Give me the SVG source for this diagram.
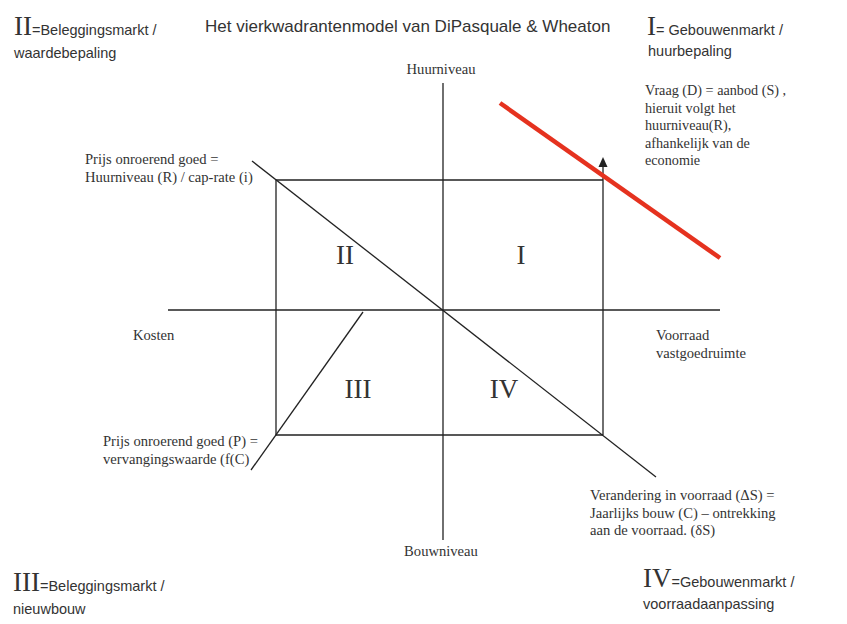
<svg xmlns="http://www.w3.org/2000/svg" width="847" height="624" viewBox="0 0 847 624">
<defs>
<style>
.ln{stroke:#222;stroke-width:1.3;fill:none}
.sans{font-family:"Liberation Sans",Arial,sans-serif;fill:#333}
.serif{font-family:"Liberation Serif","Times New Roman",serif;fill:#333}
.s14{font-size:14.5px}
.n{font-size:14.6px}
.big{font-size:27px}
</style>
</defs>
<rect width="847" height="624" fill="#fff"/>
<g id="connectors">
<line class="ln" x1="443" y1="83" x2="443" y2="540"/>
<line class="ln" x1="168" y1="310" x2="720" y2="310"/>
<polyline class="ln" points="603,435 276,435 276,180 603,180"/>
<line class="ln" x1="603" y1="435" x2="603" y2="165"/>
<polygon points="603,157 607.5,167 598.5,167" fill="#222"/>
<line class="ln" x1="252" y1="161" x2="656" y2="477"/>
<line class="ln" x1="363" y1="312" x2="251" y2="470"/>
<line x1="500" y1="103" x2="720" y2="258" stroke="#e5321f" stroke-width="4.5"/>
</g>
<g id="title"><text class="sans" x="205" y="32" font-size="17">Het vierkwadrantenmodel van DiPasquale &amp; Wheaton</text></g>
<g id="legend-II"><text x="14" y="35"><tspan class="serif big">II</tspan><tspan class="sans s14">=Beleggingsmarkt /</tspan></text><text class="sans s14" x="14" y="58">waardebepaling</text></g>
<g id="legend-I"><text x="647" y="35"><tspan class="serif big">I</tspan><tspan class="sans s14">= Gebouwenmarkt /</tspan></text><text class="sans s14" x="648" y="56">huurbepaling</text></g>
<g id="legend-III"><text x="13" y="591"><tspan class="serif big">III</tspan><tspan class="sans s14">=Beleggingsmarkt /</tspan></text><text class="sans s14" x="13" y="614">nieuwbouw</text></g>
<g id="legend-IV"><text x="643" y="587"><tspan class="serif big">IV</tspan><tspan class="sans s14">=Gebouwenmarkt /</tspan></text><text class="sans s14" x="643" y="609">voorraadaanpassing</text></g>
<g id="axis-labels" class="serif n">
<text x="441" y="74" text-anchor="middle">Huurniveau</text>
<text x="441" y="556" text-anchor="middle">Bouwniveau</text>
<text x="133" y="340">Kosten</text>
<text x="656" y="340">Voorraad</text>
<text x="656" y="358">vastgoedruimte</text>
</g>
<g id="note-I" class="serif" font-size="14.2">
<text x="645" y="95">Vraag (D) = aanbod (S) ,</text>
<text x="645" y="112.5">hieruit volgt het</text>
<text x="645" y="130">huurniveau(R),</text>
<text x="645" y="147.5">afhankelijk van de</text>
<text x="645" y="165">economie</text>
</g>
<g id="note-II" class="serif n">
<text x="85" y="164">Prijs onroerend goed =</text>
<text x="85" y="182">Huurniveau (R) / cap-rate (i)</text>
</g>
<g id="note-III" class="serif n">
<text x="103" y="446">Prijs onroerend goed (P) =</text>
<text x="103" y="464">vervangingswaarde (f(C)</text>
</g>
<g id="note-IV" class="serif n">
<text x="590" y="500">Verandering in voorraad (ΔS) =</text>
<text x="590" y="518">Jaarlijks bouw (C) – ontrekking</text>
<text x="590" y="535">aan de voorraad. (δS)</text>
</g>
<g id="quadrants" class="serif" font-size="27">
<text x="345" y="264" text-anchor="middle">II</text>
<text x="521" y="264" text-anchor="middle">I</text>
<text x="358" y="398" text-anchor="middle">III</text>
<text x="504" y="398" text-anchor="middle">IV</text>
</g>
</svg>
